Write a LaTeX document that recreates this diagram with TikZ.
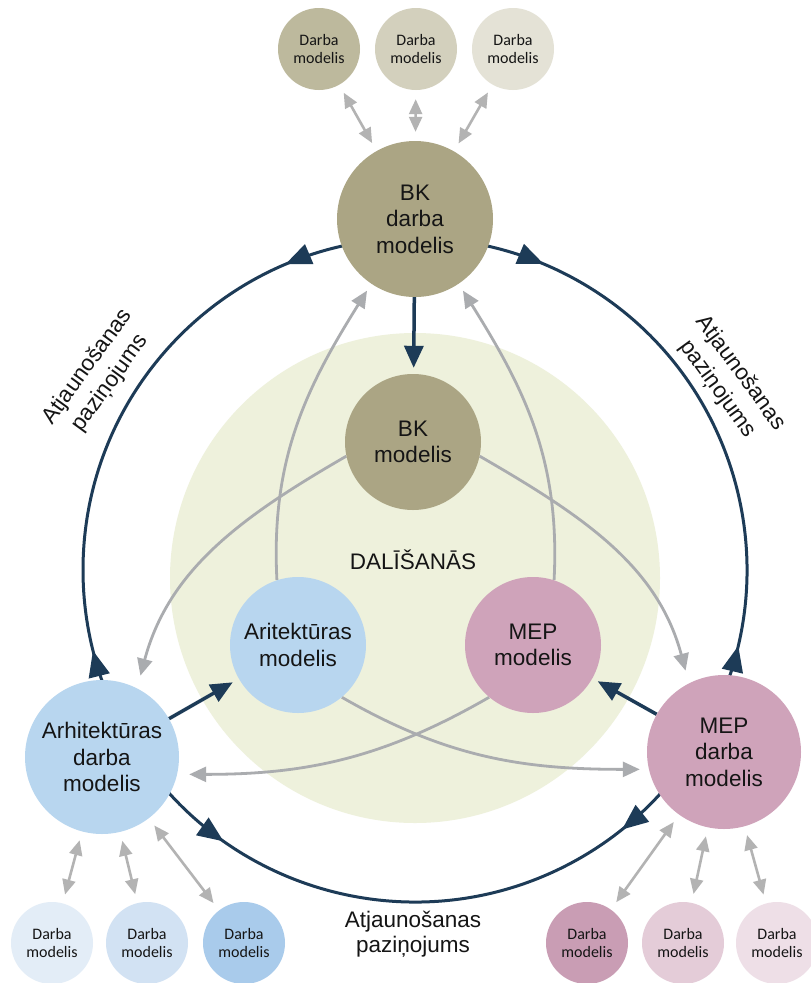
\documentclass[tikz,border=0pt]{standalone}
\usepackage{fontspec}
\setmainfont{Liberation Sans}
\newfontfamily\calf{Carlito}
\usetikzlibrary{arrows.meta,decorations.markings,calc}
\definecolor{navy}{HTML}{1D3B57}
\definecolor{lgray}{HTML}{AAACAF}
\definecolor{sgray}{HTML}{B3B3B3}
\definecolor{olive}{HTML}{ABA584}
\definecolor{oliveA}{HTML}{BDB99D}
\definecolor{oliveB}{HTML}{D3D0BD}
\definecolor{oliveC}{HTML}{E4E2D6}
\definecolor{blueM}{HTML}{B8D6EF}
\definecolor{blueA}{HTML}{E3EDF7}
\definecolor{blueB}{HTML}{D2E2F3}
\definecolor{blueC}{HTML}{A9CBEB}
\definecolor{pinkM}{HTML}{CFA3BA}
\definecolor{pinkA}{HTML}{C99DB4}
\definecolor{pinkB}{HTML}{E4CCD8}
\definecolor{pinkC}{HTML}{EEDFE7}
\definecolor{share}{HTML}{EEF1DC}
\definecolor{ink}{HTML}{151515}
\pgfdeclarelayer{back}
\pgfdeclarelayer{links}
\pgfsetlayers{back,links,main}
\tikzset{
  navytip/.tip={Triangle[length=26pt,width=21pt]},
  bub/.style={circle, inner sep=0pt, align=center, text=ink,
    font={\fontsize{22.5}{26.5}\selectfont}},
  sat/.style={circle, inner sep=0pt, minimum size=82pt, align=center, text=ink,
    font={\calf\fontsize{16}{18.5}\selectfont}},
  lbl/.style={align=center, text=ink, font={\fontsize{22.5}{28}\selectfont}},
  ring/.style={draw=navy, line width=3pt},
  navyarr/.style={draw=navy, line width=3.5pt, -{Triangle[length=22pt,width=19pt]}},
  grayarr/.style={draw=lgray, line width=2.8pt, -{Triangle[length=17pt,width=15pt]}},
  satarr/.style={draw=sgray, line width=2.6pt,
    {Triangle[length=15pt,width=13pt]}-{Triangle[length=15pt,width=13pt]},
    shorten <=9pt, shorten >=9pt},
}
\begin{document}
\begin{tikzpicture}[x=1pt,y=1pt]
\useasboundingbox (0,0) rectangle (811,-983);

% nodes
\node[sat, fill=oliveA] (t1) at (319,-49) {Darba\\modelis};
\node[sat, fill=oliveB] (t2) at (416,-49) {Darba\\modelis};
\node[sat, fill=oliveC] (t3) at (513,-49) {Darba\\modelis};
\node[bub, fill=olive, minimum size=156pt] (bkw) at (415,-219) {BK\\darba\\modelis};
\node[bub, fill=olive, minimum size=136pt] (bkm) at (413,-442) {BK\\modelis};
\node[bub, fill=blueM, minimum size=136pt] (arit) at (298,-645) {Aritektūras\\modelis};
\node[bub, fill=pinkM, minimum size=136pt] (mepm) at (533,-645) {MEP\\modelis};
\node[bub, fill=blueM, minimum size=154pt] (arw) at (102,-757) {Arhitektūras\\darba\\modelis};
\node[bub, fill=pinkM, minimum size=154pt] (mepw) at (724,-752) {MEP\\darba\\modelis};
\node[sat, fill=blueA] (b1) at (52,-943) {Darba\\modelis};
\node[sat, fill=blueB] (b2) at (147,-943) {Darba\\modelis};
\node[sat, fill=blueC] (b3) at (244,-943) {Darba\\modelis};
\node[sat, fill=pinkA] (c1) at (587,-943) {Darba\\modelis};
\node[sat, fill=pinkB] (c2) at (683,-943) {Darba\\modelis};
\node[sat, fill=pinkC] (c3) at (777,-943) {Darba\\modelis};

\node[lbl] (dal) at (413,-560) {DALĪŠANĀS};
\node[lbl, rotate=54] (lupd) at (99,-375) {Atjaunošanas\\paziņojums};
\node[lbl, rotate=-54] (rupd) at (729,-381) {Atjaunošanas\\paziņojums};
\node[lbl, font={\fontsize{22.5}{25}\selectfont}] (bupd) at (413,-934) {Atjaunošanas\\paziņojums};

\begin{pgfonlayer}{back}
  \fill[white] (0,0) rectangle (811,-983);
  \fill[share] (415,-578) circle[radius=245];
\end{pgfonlayer}

\begin{pgfonlayer}{links}
  \coordinate (ringc) at (415,-570);
  % outer ring of update notifications
  \draw[ring, postaction={decorate}, decoration={markings,
      mark=at position 0.19 with {\arrow{navytip}},
      mark=at position 0.86 with {\arrowreversed{navytip}}}]
    ($(ringc)+(90:332)$) arc[start angle=90, end angle=211, radius=332];
  \draw[ring, postaction={decorate}, decoration={markings,
      mark=at position 0.2 with {\arrow{navytip}},
      mark=at position 0.82 with {\arrowreversed{navytip}}}]
    ($(ringc)+(211:332)$) arc[start angle=211, end angle=330, radius=332];
  \draw[ring, postaction={decorate}, decoration={markings,
      mark=at position 0.14 with {\arrow{navytip}},
      mark=at position 0.81 with {\arrowreversed{navytip}}}]
    ($(ringc)+(330:332)$) arc[start angle=330, end angle=450, radius=332];

  % gray sharing curves
  \draw[grayarr, shorten >=8pt] (arit.108) to[out=93, in=238] (bkw.236);
  \draw[grayarr, shorten >=8pt] (mepm.72) to[out=87, in=302] (bkw.304);
  \draw[grayarr, shorten >=13pt] (bkm.192) to[out=210, in=75] (arw.63);
  \draw[grayarr, shorten >=13pt] (bkm.-12) to[out=-30, in=105] (mepw.117);
  \draw[grayarr, shorten >=9pt] (arit.-50) to[out=-30, in=180] (mepw.193);
  \draw[grayarr, shorten >=12pt] (mepm.230) to[out=210, in=0] (arw.-13);

  % navy publishing arrows
  \draw[navyarr, shorten >=6pt] (bkw) -- (bkm);
  \draw[navyarr, shorten >=7pt] (arw) -- (arit);
  \draw[navyarr, shorten >=6pt] (mepw) -- (mepm);

  % satellite exchanges
  \draw[satarr] (t1) -- (bkw);
  \draw[satarr] (t2) -- (bkw);
  \draw[satarr] (t3) -- (bkw);
  \draw[satarr] (b1) -- (arw);
  \draw[satarr] (b2) -- (arw);
  \draw[satarr] (b3) -- (arw);
  \draw[satarr] (c1) -- (mepw);
  \draw[satarr] (c2) -- (mepw);
  \draw[satarr] (c3) -- (mepw);
\end{pgfonlayer}
\end{tikzpicture}
\end{document}
